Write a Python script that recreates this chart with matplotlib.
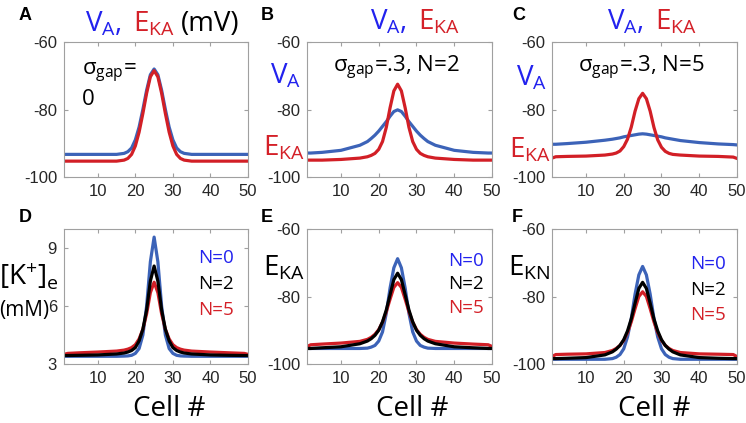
import matplotlib
matplotlib.use("Agg")
import matplotlib.pyplot as plt

W, H = 746, 423
plt.rcParams['font.family'] = ['Open Sans', 'DejaVu Sans']
plt.rcParams['mathtext.fontset'] = 'custom'
plt.rcParams['mathtext.rm'] = 'Open Sans'
plt.rcParams['mathtext.it'] = 'Open Sans:italic'
plt.rcParams['axes.unicode_minus'] = False

# ---------------- data ----------------
cells = [1, 2, 5, 10, 15, 17, 18, 19, 20, 21, 22, 23, 24, 25, 26, 27, 28, 29, 30, 31, 32, 33, 35, 40, 45, 49, 50]

# Panel A (sigma_gap = 0)
A_VA = [-93.3, -93.3, -93.3, -93.3, -93.3, -93.0, -92.5, -91.4, -89.0, -85.2, -80.0, -74.3, -69.7, -68.0,
        -69.7, -74.3, -80.0, -85.2, -89.0, -91.4, -92.5, -93.0, -93.3, -93.3, -93.3, -93.3, -93.3]
A_EKA = [-95.3, -95.3, -95.3, -95.3, -95.3, -95.0, -94.5, -93.3, -90.8, -86.7, -81.2, -75.2, -70.3, -68.5,
         -70.3, -75.2, -81.2, -86.7, -90.8, -93.3, -94.5, -95.0, -95.3, -95.3, -95.3, -95.3, -95.3]
# Panel B (sigma_gap = .3, N = 2)
B_VA = [-92.9, -92.9, -92.7, -92.1, -90.6, -89.5, -88.6, -87.6, -86.4, -85.0, -83.6, -82.0, -80.6, -80.1,
        -80.6, -82.0, -83.6, -85.0, -86.4, -87.6, -88.6, -89.5, -90.6, -92.1, -92.7, -92.9, -92.9]
B_EKA = [-95.0, -95.0, -95.0, -94.8, -94.4, -94.0, -93.6, -93.0, -91.8, -89.5, -85.3, -79.5, -74.5, -72.5,
         -74.5, -79.5, -85.3, -89.5, -91.8, -93.0, -93.6, -94.0, -94.4, -94.8, -95.0, -95.0, -95.0]
# Panel C (sigma_gap = .3, N = 5)
C_VA = [-90.3, -90.3, -90.1, -89.7, -89.1, -88.8, -88.6, -88.4, -88.1, -87.9, -87.7, -87.5, -87.3, -87.2,
        -87.3, -87.5, -87.7, -87.9, -88.1, -88.4, -88.6, -88.8, -89.2, -89.8, -90.2, -90.4, -90.5]
C_EKA = [-94.4, -94.0, -93.9, -93.8, -93.5, -93.2, -92.9, -92.3, -91.0, -88.8, -85.2, -80.5, -76.8, -75.2,
         -76.8, -80.5, -85.3, -89.0, -91.2, -92.4, -93.0, -93.3, -93.5, -93.8, -93.9, -94.1, -94.5]
# Panel D ([K+]e)
D_N0 = [3.40, 3.40, 3.40, 3.40, 3.40, 3.41, 3.42, 3.45, 3.55, 3.80, 4.50, 6.00, 8.30, 9.58,
        8.30, 6.00, 4.50, 3.80, 3.55, 3.45, 3.42, 3.41, 3.40, 3.40, 3.40, 3.40, 3.40]
D_N2 = [3.44, 3.44, 3.45, 3.47, 3.52, 3.57, 3.62, 3.70, 3.85, 4.20, 4.80, 5.80, 7.30, 8.08,
        7.30, 5.80, 4.80, 4.20, 3.85, 3.70, 3.62, 3.57, 3.52, 3.47, 3.45, 3.44, 3.44]
D_N5 = [3.50, 3.55, 3.58, 3.62, 3.67, 3.72, 3.77, 3.85, 4.00, 4.30, 4.80, 5.60, 6.70, 7.24,
        6.70, 5.60, 4.80, 4.30, 4.00, 3.85, 3.77, 3.72, 3.67, 3.62, 3.58, 3.55, 3.50]
# Panel E (E_KA)
E_N0 = [-95.4, -95.4, -95.4, -95.4, -95.4, -95.3, -95.0, -94.5, -93.2, -90.5, -85.0, -77.5, -71.5, -68.8,
        -71.5, -77.5, -85.0, -90.5, -93.2, -94.5, -95.0, -95.3, -95.4, -95.4, -95.4, -95.4, -95.4]
E_N2 = [-95.4, -95.4, -95.2, -94.9, -94.0, -93.2, -92.5, -91.5, -90.0, -87.5, -84.0, -79.5, -75.0, -73.1,
        -75.0, -79.5, -84.0, -87.5, -90.0, -91.5, -92.5, -93.2, -94.0, -94.9, -95.2, -95.4, -95.4]
E_N5 = [-94.8, -94.3, -94.1, -93.8, -93.3, -92.7, -92.1, -91.2, -89.8, -87.6, -84.5, -80.8, -77.3, -75.9,
        -77.3, -80.8, -84.5, -87.6, -89.8, -91.2, -92.1, -92.7, -93.3, -93.8, -94.1, -94.3, -94.8]
# Panel F (E_KN)
F_N0 = [-98.6, -98.6, -98.6, -98.6, -98.6, -98.4, -98.0, -97.2, -95.5, -92.0, -86.5, -79.3, -73.6, -71.1,
        -73.6, -79.3, -86.5, -92.0, -95.5, -97.2, -98.0, -98.4, -98.6, -98.6, -98.6, -98.6, -98.6]
F_N2 = [-98.4, -98.4, -98.3, -98.1, -97.3, -96.4, -95.6, -94.5, -92.8, -90.2, -86.6, -82.0, -77.6, -75.8,
        -77.6, -82.0, -86.6, -90.2, -92.8, -94.5, -95.6, -96.4, -97.3, -98.1, -98.3, -98.4, -98.4]
F_N5 = [-97.8, -97.2, -97.1, -97.0, -96.6, -96.0, -95.4, -94.5, -93.0, -90.7, -87.5, -83.6, -80.0, -78.6,
        -80.0, -83.6, -87.5, -90.7, -93.0, -94.5, -95.4, -96.0, -96.6, -97.0, -97.1, -97.2, -97.8]

xticks = [10, 20, 30, 40, 50]
yticks_mV = [-100, -80, -60]
yticks_K = [3, 6, 9]

# ---------------- style ----------------
BLUE = '#3c63b8'
RED = '#d21f26'
BLACK = '#000000'
TBLUE = '#2222ee'
TRED = '#d42028'
LW = 2.3

fig = plt.figure(figsize=(W / 100, H / 100), dpi=100)


def add_axes(l, t, r, b):
    return fig.add_axes([l / W, 1 - b / H, (r - l) / W, (b - t) / H])


def style(ax, ylim, yticks):
    ax.set_xlim(1, 50)
    ax.set_ylim(*ylim)
    ax.set_xticks(xticks)
    ax.set_yticks(yticks)
    for s in ax.spines.values():
        s.set_color('#a0a0a0')
        s.set_linewidth(0.8)
    ax.tick_params(direction='in', length=3, width=0.8, color='#a0a0a0',
                   top=True, right=True, labelsize=12, labelcolor='#262626', pad=5)
    for lab in ax.get_xticklabels() + ax.get_yticklabels():
        lab.set_family('Liberation Sans')


def ftext(x, y, s, **kw):
    return fig.text(x / W, 1 - y / H, s, va='baseline', ha=kw.pop('ha', 'left'), **kw)


axA = add_axes(64, 42, 248, 177)
axB = add_axes(307, 42, 492, 177)
axC = add_axes(552, 42, 737, 177)
axD = add_axes(64, 229, 248, 364)
axE = add_axes(307, 229, 492, 364)
axF = add_axes(552, 229, 737, 364)

for ax, va, ek in [(axA, A_VA, A_EKA), (axB, B_VA, B_EKA), (axC, C_VA, C_EKA)]:
    ax.plot(cells, va, color=BLUE, lw=LW, solid_joinstyle='round')
    ax.plot(cells, ek, color=RED, lw=LW, solid_joinstyle='round')
    style(ax, (-100, -60), yticks_mV)

for ax, n0, n2, n5 in [(axE, E_N0, E_N2, E_N5), (axF, F_N0, F_N2, F_N5)]:
    ax.plot(cells, n0, color=BLUE, lw=LW, solid_joinstyle='round')
    ax.plot(cells, n5, color=RED, lw=LW, solid_joinstyle='round')
    ax.plot(cells, n2, color=BLACK, lw=LW, solid_joinstyle='round')
    style(ax, (-100, -60), yticks_mV)

axD.plot(cells, D_N0, color=BLUE, lw=LW, solid_joinstyle='round')
axD.plot(cells, D_N5, color=RED, lw=LW, solid_joinstyle='round')
axD.plot(cells, D_N2, color=BLACK, lw=LW, solid_joinstyle='round')
style(axD, (3, 10), yticks_K)

# panel letters
for (x, y, s) in [(19, 20, 'A'), (261, 20, 'B'), (512, 20, 'C'),
                  (19, 222, 'D'), (261, 222, 'E'), (512, 222, 'F')]:
    ftext(x, y, s, fontsize=13, fontweight='bold', family='Liberation Sans')

# titles
VA = r'$\mathregular{V_A}$'
EKA = r'$\mathregular{E_{KA}}$'
TS = 20
ftext(85, 31, VA + ',', color=TBLUE, fontsize=TS)
ftext(133, 31, EKA, color=TRED, fontsize=TS)
ftext(181, 31, '(mV)', color=BLACK, fontsize=TS)
ftext(370, 30, VA + ',', color=TBLUE, fontsize=TS)
ftext(418, 30, EKA, color=TRED, fontsize=TS)
ftext(607, 30, VA + ',', color=TBLUE, fontsize=TS)
ftext(655, 30, EKA, color=TRED, fontsize=TS)

# sigma annotations
ftext(82, 75, r'$\mathregular{σ_{gap}}$=', fontsize=16)
ftext(82, 105, '0', fontsize=16)
ftext(333, 72, r'$\mathregular{σ_{gap}}$=.3, N=2', fontsize=16)
ftext(578, 72, r'$\mathregular{σ_{gap}}$=.3, N=5', fontsize=16)

# y labels
ftext(270, 83, VA, color=TBLUE, fontsize=20)
ftext(263, 155, EKA, color=TRED, fontsize=20)
ftext(516, 85, VA, color=TBLUE, fontsize=20)
ftext(509, 157, EKA, color=TRED, fontsize=20)
ftext(-1, 285, r'$\mathregular{[K^{+}]_e}$', fontsize=20)
ftext(-1, 316, '(mM)', fontsize=15)
ftext(263, 275, EKA, fontsize=20)
ftext(508, 275, r'$\mathregular{E_{KN}}$', fontsize=20)

# N legends
for x0, ys in [(198, (263, 289, 315)), (448, (266, 289, 313)), (690, (269, 295, 320))]:
    for y, s, c in zip(ys, ['N=0', 'N=2', 'N=5'], [TBLUE, BLACK, TRED]):
        ftext(x0, y, s, color=c, fontsize=13.5)

# x labels
for xc in (169, 412, 654):
    ftext(xc, 416, 'Cell #', fontsize=20, ha='center')

fig.savefig('out.png', dpi=100)
